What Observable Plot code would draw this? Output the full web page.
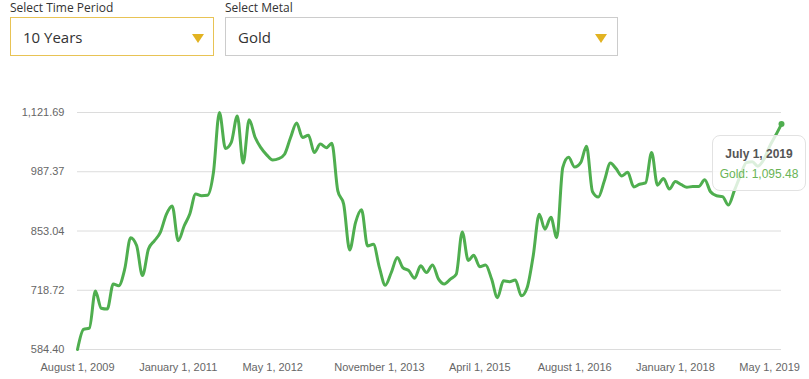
<!DOCTYPE html>
<html>
<head>
<meta charset="utf-8">
<script src="https://cdn.jsdelivr.net/npm/d3@7"></script>
<script src="https://cdn.jsdelivr.net/npm/@observablehq/plot@0.6"></script>
<style>
  html, body { margin: 0; padding: 0; background: #fff; }
  #page { position: relative; width: 809px; height: 379px; overflow: hidden; font-family: "Open Sans", "Liberation Sans", Arial, sans-serif; }
  #controls { position: relative; height: 60px; }
  .lbl { position: absolute; top: 0px; font-size: 12px; color: #333; line-height: 16px; }
  .box { position: absolute; top: 17px; height: 39px; box-sizing: border-box; background: #fff; }
  .box .txt { position: absolute; left: 12px; top: 0; line-height: 39px; font-size: 15px; color: #333; }
  .box .tri { position: absolute; top: 16px; width: 0; height: 0; border-left: 6px solid transparent; border-right: 6px solid transparent; border-top: 9px solid #e2b322; }
  #chart { position: relative; }
  #tip { position: absolute; box-sizing: border-box; width: 94px; height: 56px; border: 1px solid #e2e2e2; border-radius: 8px; background: rgba(255,255,255,0.8); font-family: "Liberation Sans", Arial, sans-serif; font-size: 12px; text-align: center; }
  #tip .t1 { position: absolute; left: 0; right: 0; top: 11px; font-weight: bold; color: #555; }
  #tip .t2 { position: absolute; left: 0; right: 0; top: 31px; color: #6ab456; }
</style>
</head>
<body>
<div id="page">
  <div id="controls">
    <div class="lbl" style="left:10px">Select Time Period</div>
    <div class="box" style="left:10px; width:204px; border:1px solid #e8c355;">
      <div class="txt">10 Years</div><div class="tri" style="left:181px"></div>
    </div>
    <div class="lbl" style="left:225px">Select Metal</div>
    <div class="box" style="left:225px; width:393px; border:1px solid #cccccc;">
      <div class="txt">Gold</div><div class="tri" style="left:369px"></div>
    </div>
  </div>
  <div id="chart"></div>
</div>
<script>
// Monthly series, first month August 2009 (one value per month through July 2019)
const startYear = 2009;
const startMonth = 7; // August (0-based)
const metalName = "Gold";
const values = [
  584.40, 630, 633, 717, 678, 676, 733, 729, 767, 838,
  820, 752, 812, 831, 850, 891, 910, 831, 865, 891,
  937, 933, 934, 985, 1121.69, 1040, 1054, 1114, 1007, 1105,
  1065, 1042, 1025, 1014, 1017, 1027, 1065, 1098, 1065, 1070,
  1031, 1050, 1042, 1052, 944, 914, 810, 872, 901, 819,
  823, 770, 730, 759, 793, 770, 763, 746, 774, 759,
  776, 744, 733, 744, 755, 851, 786, 798, 772, 776,
  744, 702, 740, 738, 742, 706, 725, 797, 891, 857,
  884, 838, 997, 1020, 998, 1008, 1045, 942, 930, 967,
  1007, 995, 978, 986, 953, 959, 962, 1031, 957, 972,
  948, 965, 958, 952, 954, 954, 969, 942, 933, 931,
  912, 945, 978, 1008, 1010, 1000, 1015, 1045, 1070, 1095.48
];
const yTicks = [584.40, 718.72, 853.04, 987.37, 1121.69];
const xTickLabels = ["2009-08-01", "2011-01-01", "2012-05-01", "2013-11-01", "2015-04-01", "2016-08-01", "2018-01-01", "2019-05-01"];

const dates = values.map((v, i) => new Date(Date.UTC(startYear, startMonth + i, 1)));
const data = values.map((v, i) => ({date: dates[i], value: v}));
const xTicks = xTickLabels.map(s => new Date(s + "T00:00:00Z"));
const fmtDate = d3.utcFormat("%B %-d, %Y");
const fmtVal = d3.format(",.2f");
const green = "#4fae4f";

const plot = Plot.plot({
  width: 809,
  height: 319,
  marginLeft: 77,
  marginRight: 28,
  marginTop: 52,
  marginBottom: 30,
  style: {fontFamily: "'Liberation Sans', Arial, sans-serif", fontSize: "11px", color: "#666", background: "transparent", overflow: "visible"},
  x: {type: "utc", domain: [dates[0], dates[dates.length - 1]]},
  y: {domain: [yTicks[0], yTicks[yTicks.length - 1]]},
  marks: [
    Plot.gridY(yTicks, {stroke: "#dcdcdc", strokeOpacity: 1}),
    Plot.axisY(yTicks, {tickSize: 0, tickPadding: 13, tickFormat: fmtVal, label: null}),
    Plot.axisX(xTicks, {tickSize: 0, tickPadding: 14, tickFormat: fmtDate, label: null}),
    Plot.line(data, {x: "date", y: "value", stroke: green, strokeWidth: 3, curve: "monotone-x"}),
    Plot.dot([data[data.length - 1]], {x: "date", y: "value", r: 3, fill: green})
  ]
});
const chart = document.getElementById("chart");
chart.appendChild(plot);

// tooltip anchored to the last point through the plot's own scales
const last = data[data.length - 1];
const px = plot.scale("x").apply(last.date);
const py = plot.scale("y").apply(last.value);
const tip = document.createElement("div");
tip.id = "tip";
tip.style.left = (px - 69) + "px";
tip.style.top = (py + 11) + "px";
tip.innerHTML = `<div class="t1">${fmtDate(last.date)}</div><div class="t2">${metalName}: ${fmtVal(last.value)}</div>`;
chart.appendChild(tip);
</script>
</body>
</html>
